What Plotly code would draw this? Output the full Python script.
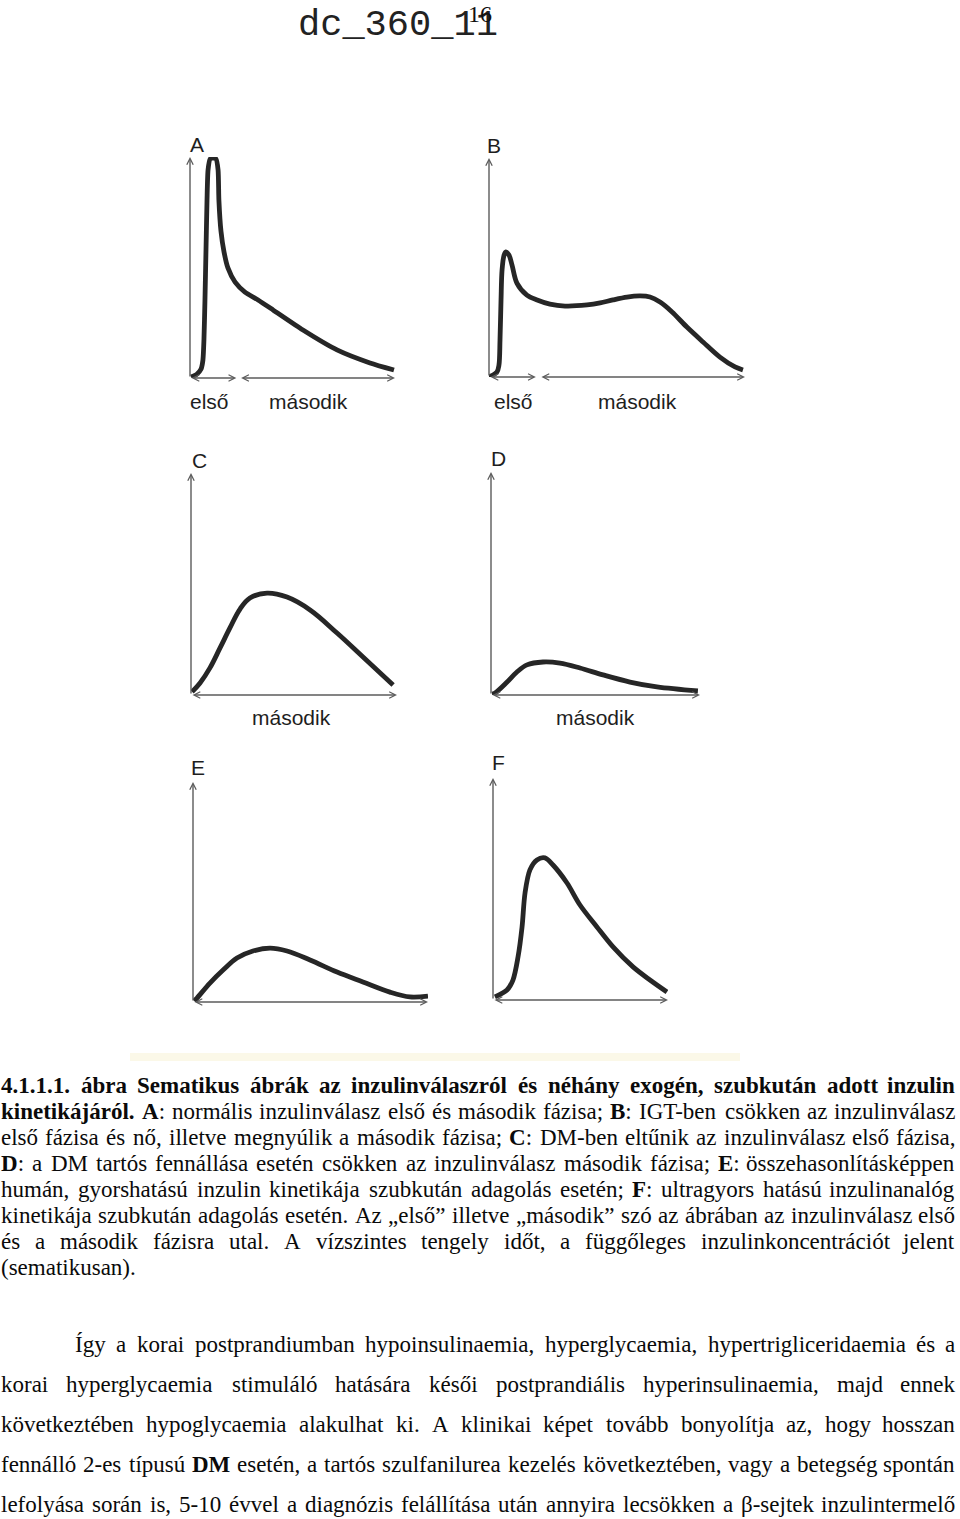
import plotly.graph_objects as go

W, H = 960, 1519

# ---------------- data: schematic insulin curves (arbitrary units, 0-100) ----------------
A_x = [0.5, 3.4, 5.4, 6.3, 6.8, 7.3, 7.8, 8.3, 8.8, 9.8, 11.2, 12.7, 13.7, 14.1, 15.1, 16.6, 18.5, 22.0, 26.8, 33.2, 40.5, 55.1, 71.7, 87.8, 99.5]
A_y = [0.5, 1.8, 4.1, 8.1, 17.2, 35.3, 57.9, 80.5, 94.1, 99.1, 99.5, 99.1, 94.1, 80.5, 66.5, 57.0, 49.8, 43.4, 38.9, 35.3, 30.8, 21.7, 12.7, 6.8, 3.6]

B_x = [0, 3.1, 3.9, 4.3, 4.7, 5.1, 5.9, 6.6, 7.8, 9.0, 10.9, 14.8, 18.8, 23.8, 29.7, 38.3, 43.4, 48.4, 53.9, 59.0, 62.9, 66.8, 71.5, 77.3, 83.6, 90.2, 96.1, 99.2]
B_y = [0, 2.3, 5.5, 16.9, 35.2, 48.9, 55.7, 57.1, 55.7, 51.1, 42.9, 37.4, 35.2, 33.3, 32.4, 32.9, 33.8, 35.2, 36.5, 37.0, 36.5, 34.2, 29.7, 22.8, 16.0, 9.1, 4.6, 3.2]

C_x = [0.5, 4.4, 9.2, 14.1, 18.9, 23.8, 28.6, 36.9, 46.6, 57.8, 70.9, 83.5, 98.1]
C_y = [1.4, 5.4, 12.2, 21.2, 30.2, 38.7, 43.7, 45.9, 44.1, 38.3, 27.9, 17.1, 4.5]

D_x = [0.5, 1.9, 7.7, 12.4, 17.2, 24.9, 33.0, 42.6, 53.6, 66.5, 79.4, 99.0]
D_y = [0.5, 0.9, 5.8, 10.3, 13.5, 14.8, 14.3, 12.1, 9.0, 5.8, 3.6, 1.8]

E_x = [0.5, 1.7, 7.2, 12.8, 18.7, 25.5, 32.8, 40.0, 49.8, 61.3, 72.3, 83.8, 92.3, 100]
E_y = [0.5, 1.8, 8.6, 14.5, 20.0, 23.2, 24.5, 23.2, 19.1, 13.6, 9.1, 4.5, 2.3, 2.7]

F_x = [1.1, 8.0, 11.4, 14.3, 16.6, 18.3, 21.1, 25.1, 29.7, 34.3, 42.3, 49.7, 59.4, 68.6, 80.0, 89.7, 99.4]
F_y = [1.4, 4.5, 9.0, 19.4, 32.9, 48.2, 58.6, 63.1, 64.0, 60.8, 52.7, 42.8, 32.9, 23.9, 14.9, 9.0, 3.6]

panel_letters = ["A", "B", "C", "D", "E", "F"]
curves_x = [A_x, B_x, C_x, D_x, E_x, F_x]
curves_y = [A_y, B_y, C_y, D_y, E_y, F_y]
phase_dividers = [23.4, 19.1, None, None, None, None]   # boundary between "első" and "második"
phase_labels = [["első", "második"], ["első", "második"], ["második"], ["második"], [], []]

header_text = "dc_360_11"
page_number = "16"

caption_lines = [
    "**4.1.1.1. ábra Sematikus ábrák az inzulinválaszról és néhány exogén, szubkután adott inzulin**",
    "**kinetikájáról. A**: normális inzulinválasz első és második fázisa; **B**: IGT-ben csökken az inzulinválasz",
    "első fázisa és nő, illetve megnyúlik a második fázisa; **C**: DM-ben eltűnik az inzulinválasz első fázisa,",
    "**D**: a DM tartós fennállása esetén csökken az inzulinválasz második fázisa; **E**: összehasonlításképpen",
    "humán, gyorshatású inzulin kinetikája szubkután adagolás esetén; **F**: ultragyors hatású inzulinanalóg",
    "kinetikája szubkután adagolás esetén. Az „első” illetve „második” szó az ábrában az inzulinválasz első",
    "és a második fázisra utal. A vízszintes tengely időt, a függőleges inzulinkoncentrációt jelent",
    "(sematikusan).",
]
body_lines = [
    "Így a korai postprandiumban hypoinsulinaemia, hyperglycaemia, hypertrigliceridaemia és a",
    "korai hyperglycaemia stimuláló hatására késői postprandiális hyperinsulinaemia, majd ennek",
    "következtében hypoglycaemia alakulhat ki. A klinikai képet tovább bonyolítja az, hogy hosszan",
    "fennálló 2-es típusú **DM** esetén, a tartós szulfanilurea kezelés következtében, vagy a betegség spontán",
    "lefolyása során is, 5-10 évvel a diagnózis felállítása után annyira lecsökken a β-sejtek inzulintermelő",
]

# ---------------- layout geometry (pixels) ----------------
# (left, right, bottom, top) of each panel's axes
panel_box = [
    (190, 395, 378, 157),
    (489, 745, 377, 158),
    (191, 397, 695, 473),
    (491, 700, 695, 472),
    (193, 428, 1002, 782),
    (493, 668, 1000, 778),
]
curve_smoothing = [0.6, 0.9, 1.1, 1.0, 1.0, 0.9]
letter_pos = [(197, 144), (494, 145), (199, 460), (498, 458), (198, 767), (498, 762)]
phase_label_pos = [[(209, 401), (308, 401)], [(513, 402), (637, 402)], [(291, 718)], [(595, 717)], [], []]


def px(x):
    return x / W


def py(y):
    return 1 - y / H


CURVE_COLOR = "#262626"
AXIS_COLOR = "#5c5c5c"
SANS = "Liberation Sans, Arial, sans-serif"
SERIF = "Liberation Serif, Times New Roman, serif"

fig = go.Figure()
annotations = []
layout_axes = {}

for i in range(6):
    n = i + 1
    xa = "x" if n == 1 else f"x{n}"
    ya = "y" if n == 1 else f"y{n}"
    l, r, b, t = panel_box[i]
    layout_axes["xaxis" if n == 1 else f"xaxis{n}"] = dict(
        domain=[px(l), px(r)], range=[0, 100], visible=False, anchor=ya, fixedrange=True)
    layout_axes["yaxis" if n == 1 else f"yaxis{n}"] = dict(
        domain=[py(b), py(t)], range=[0, 100], visible=False, anchor=xa, fixedrange=True)

    fig.add_trace(go.Scatter(
        x=curves_x[i], y=curves_y[i], mode="lines", xaxis=xa, yaxis=ya,
        line=dict(color=CURVE_COLOR, width=4.8, shape="spline", smoothing=curve_smoothing[i]),
        cliponaxis=False, hoverinfo="skip", showlegend=False))

    # vertical axis arrow
    annotations.append(dict(
        xref=xa, yref=ya, axref=xa, ayref=ya, x=0, y=100, ax=0, ay=0, text="",
        showarrow=True, arrowhead=5, arrowsize=0.9, arrowwidth=1.4, arrowcolor=AXIS_COLOR))
    # horizontal axis arrows
    d = phase_dividers[i]
    segs = [(0, 100)] if d is None else [(0, d - 0.8), (d + 0.8, 100)]
    for (s0, s1) in segs:
        annotations.append(dict(
            xref=xa, yref=ya, axref=xa, ayref=ya, x=s1, y=0, ax=s0, ay=0, text="",
            showarrow=True, arrowhead=5, startarrowhead=5, arrowside="end+start",
            arrowsize=0.9, startarrowsize=0.9, arrowwidth=1.4, arrowcolor=AXIS_COLOR))

    lx, ly = letter_pos[i]
    annotations.append(dict(xref="paper", yref="paper", x=px(lx), y=py(ly), text=panel_letters[i],
                            showarrow=False, xanchor="center", yanchor="middle",
                            font=dict(family=SANS, size=21, color="#1e1e1e")))
    for lab, (qx, qy) in zip(phase_labels[i], phase_label_pos[i]):
        annotations.append(dict(xref="paper", yref="paper", x=px(qx), y=py(qy), text=lab,
                                showarrow=False, xanchor="center", yanchor="middle",
                                font=dict(family=SANS, size=21, color="#1e1e1e")))

# ---------------- header ----------------
annotations.append(dict(xref="paper", yref="paper", x=px(296), y=py(25), text=header_text,
                        showarrow=False, xanchor="left", yanchor="middle",
                        font=dict(family="Liberation Mono, Courier New, monospace", size=37, color="#222222")))
annotations.append(dict(xref="paper", yref="paper", x=px(480), y=py(14), text=page_number,
                        showarrow=False, xanchor="center", yanchor="middle",
                        font=dict(family=SERIF, size=24, color="#111111")))

# ---------------- justified serif text ----------------
REG = {' ': 250, 'a': 444, 'b': 500, 'c': 444, 'd': 500, 'e': 444, 'f': 333, 'g': 500, 'h': 500, 'i': 278,
       'j': 278, 'k': 500, 'l': 278, 'm': 778, 'n': 500, 'o': 500, 'p': 500, 'q': 500, 'r': 333, 's': 389,
       't': 278, 'u': 500, 'v': 500, 'w': 722, 'x': 500, 'y': 500, 'z': 444,
       'A': 722, 'B': 667, 'C': 667, 'D': 722, 'E': 611, 'F': 556, 'G': 722, 'H': 722, 'I': 333, 'J': 389,
       'K': 722, 'L': 611, 'M': 889, 'N': 722, 'O': 722, 'P': 556, 'Q': 722, 'R': 667, 'S': 556, 'T': 611,
       'U': 722, 'V': 722, 'W': 944, 'X': 722, 'Y': 722, 'Z': 611,
       '.': 250, ',': 250, ':': 278, ';': 278, '-': 333, '(': 333, ')': 333, '„': 444, '”': 444, 'β': 500}
BOLD = {' ': 250, 'a': 500, 'b': 556, 'c': 444, 'd': 556, 'e': 444, 'f': 333, 'g': 500, 'h': 556, 'i': 278,
        'j': 333, 'k': 556, 'l': 278, 'm': 833, 'n': 556, 'o': 500, 'p': 556, 'q': 556, 'r': 444, 's': 389,
        't': 333, 'u': 556, 'v': 500, 'w': 722, 'x': 500, 'y': 500, 'z': 444,
        'A': 722, 'B': 667, 'C': 722, 'D': 722, 'E': 667, 'F': 611, 'G': 778, 'H': 778, 'I': 389, 'J': 500,
        'K': 778, 'L': 667, 'M': 944, 'N': 722, 'O': 778, 'P': 611, 'Q': 778, 'R': 722, 'S': 556, 'T': 667,
        'U': 722, 'V': 722, 'W': 1000, 'X': 722, 'Y': 722, 'Z': 667,
        '.': 250, ',': 250, ':': 333, ';': 333, '-': 333, '(': 333, ')': 333, '„': 500, '”': 500}
ACC = {'á': 'a', 'é': 'e', 'í': 'i', 'ó': 'o', 'ö': 'o', 'ő': 'o', 'ú': 'u', 'ü': 'u', 'ű': 'u', 'Í': 'I'}
for k in '0123456789':
    REG[k] = 500
    BOLD[k] = 500


def seg_width(text, bold, size):
    tbl = BOLD if bold else REG
    return sum(tbl.get(ACC.get(c, c), 500) for c in text) * size / 1000.0


def parse(line):
    words, cur, buf, bold, i = [], [], "", False, 0
    while i < len(line):
        if line.startswith("**", i):
            if buf:
                cur.append((buf, bold))
                buf = ""
            bold = not bold
            i += 2
            continue
        ch = line[i]
        if ch == " ":
            if buf:
                cur.append((buf, bold))
                buf = ""
            if cur:
                words.append(cur)
                cur = []
        else:
            buf += ch
        i += 1
    if buf:
        cur.append((buf, bold))
    if cur:
        words.append(cur)
    return words


TEXT_COLOR = "#0a0a0a"


def add_text_line(line, baseline, left, right, size, justify=True):
    words = parse(line)
    widths = [sum(seg_width(t, b, size) for t, b in w) for w in words]
    html = ["".join(f"<b>{t}</b>" if b else t for t, b in w) for w in words]
    ymid = baseline - 0.3375 * size
    if justify and len(words) > 1:
        gap = (right - left - sum(widths)) / (len(words) - 1)
    else:
        gap = 0.25 * size
    x = left
    for k, (h, w) in enumerate(zip(html, widths)):
        if justify and k == len(words) - 1 and len(words) > 1:
            annotations.append(dict(xref="paper", yref="paper", x=px(right + 1), y=py(ymid), text=h,
                                    showarrow=False, xanchor="right", yanchor="middle",
                                    font=dict(family=SERIF, size=size, color=TEXT_COLOR)))
        else:
            annotations.append(dict(xref="paper", yref="paper", x=px(x - 2), y=py(ymid), text=h,
                                    showarrow=False, xanchor="left", yanchor="middle",
                                    font=dict(family=SERIF, size=size, color=TEXT_COLOR)))
        x += w + gap


TEXT_SIZE = 23
for k, line in enumerate(caption_lines):
    add_text_line(line, 1093 + 26 * k, 1, 956, TEXT_SIZE, justify=(k < len(caption_lines) - 1))
for k, line in enumerate(body_lines):
    add_text_line(line, 1352 + 40 * k, 75 if k == 0 else 1, 956, TEXT_SIZE, justify=True)

# faint scan band under the figure
shapes = [dict(type="rect", xref="paper", yref="paper", x0=px(130), x1=px(740), y0=py(1061), y1=py(1053),
               fillcolor="#fbf8e8", line=dict(width=0), layer="below")]

fig.update_layout(
    width=W, height=H, margin=dict(l=0, r=0, t=0, b=0),
    paper_bgcolor="white", plot_bgcolor="white",
    annotations=annotations, shapes=shapes, showlegend=False,
    **layout_axes)

fig.write_html("out.html", config={"displayModeBar": False})
